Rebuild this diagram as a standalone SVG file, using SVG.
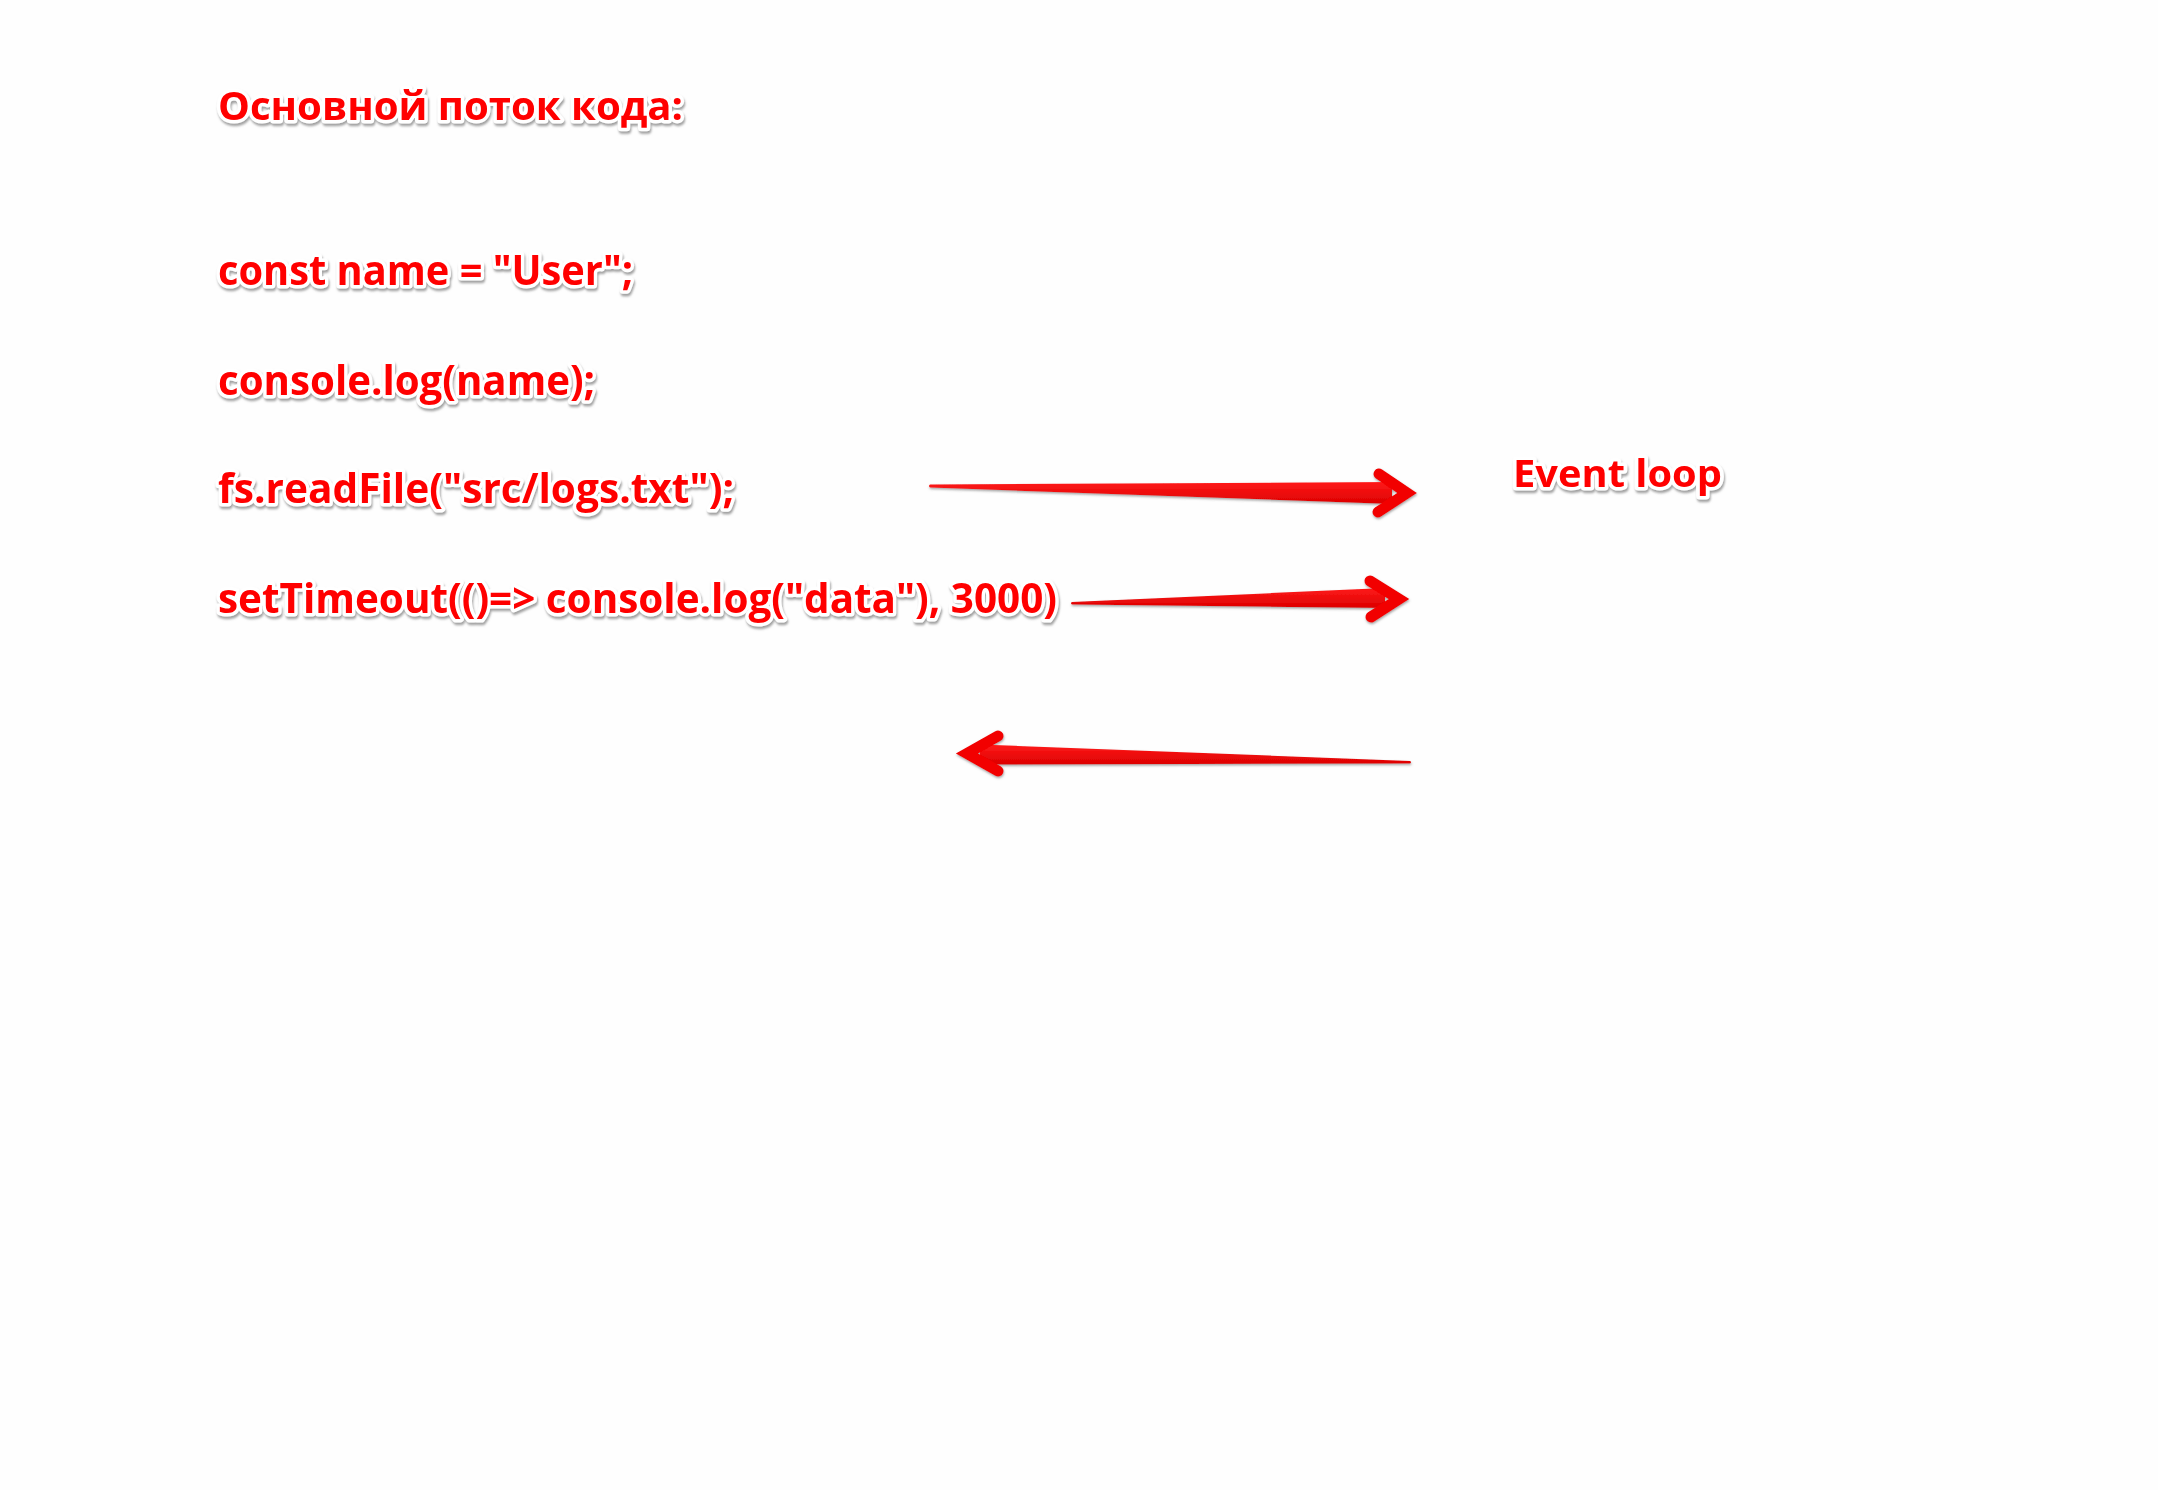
<svg xmlns="http://www.w3.org/2000/svg" width="2158" height="1490" viewBox="0 0 2158 1490">
  <defs>
    <filter id="tshadow" x="-10%" y="-30%" width="120%" height="170%">
      <feDropShadow dx="1" dy="2.5" stdDeviation="1.2" flood-color="#777777" flood-opacity="0.7"/>
    </filter>
    <filter id="ashadow" x="-5%" y="-50%" width="110%" height="200%">
      <feDropShadow dx="0.5" dy="1.5" stdDeviation="1" flood-color="#666666" flood-opacity="0.6"/>
    </filter>
    <linearGradient id="red" x1="0" y1="0" x2="0" y2="1">
      <stop offset="0" stop-color="#ff1a1a"/>
      <stop offset="1" stop-color="#dc0000"/>
    </linearGradient>
  </defs>
  <style>
    .t { font-family: "Open Sans", "Noto Sans", "DejaVu Sans", sans-serif; font-weight: 700; fill: #ff0000; stroke: #ffffff; stroke-width: 7; stroke-linejoin: round; paint-order: stroke; filter: url(#tshadow); }
    .shaft { fill: url(#red); }
    .head { fill: none; stroke: #f20000; stroke-width: 11; stroke-linecap: round; stroke-linejoin: miter; stroke-miterlimit: 10; }
  </style>
  <rect x="0" y="0" width="2158" height="1490" fill="#fefefe"/>

  <g id="title">
    <text class="t" x="218" y="120" font-size="40" textLength="465" lengthAdjust="spacingAndGlyphs">Основной поток кода:</text>
  </g>
  <g id="line-const">
    <text class="t" x="218" y="285" font-size="42" textLength="415" lengthAdjust="spacingAndGlyphs">const name = "User";</text>
  </g>
  <g id="line-console">
    <text class="t" x="218" y="395" font-size="42" textLength="377" lengthAdjust="spacingAndGlyphs">console.log(name);</text>
  </g>
  <g id="line-readfile">
    <text class="t" x="218" y="503" font-size="42" textLength="516" lengthAdjust="spacingAndGlyphs">fs.readFile("src/logs.txt");</text>
  </g>
  <g id="line-settimeout">
    <text class="t" x="218" y="613" font-size="42" textLength="839" lengthAdjust="spacingAndGlyphs">setTimeout(()=&gt; console.log("data"), 3000)</text>
  </g>
  <g id="event-loop">
    <text class="t" x="1513" y="487" font-size="37" textLength="209" lengthAdjust="spacingAndGlyphs">Event loop</text>
  </g>

  <g id="connectors" filter="url(#ashadow)">
    <g id="arrow-readfile">
      <path class="shaft" d="M930,484.5 L1392,482 L1392,504 L930,487.5 Q928,486 930,484.5 Z"/>
      <polyline class="head" points="1379,474 1407,493 1378,512"/>
    </g>
    <g id="arrow-settimeout">
      <path class="shaft" d="M1072,602 L1385,588 L1385,608 L1072,604.5 Q1070,603 1072,602 Z"/>
      <polyline class="head" points="1370,581 1399,599 1371,617"/>
    </g>
    <g id="arrow-return">
      <path class="shaft" d="M1410,761 L980,744.5 L980,764.5 L1410,763.5 Q1412,762 1410,761 Z"/>
      <polyline class="head" points="998,736 967,753.5 998,771"/>
    </g>
  </g>
</svg>
